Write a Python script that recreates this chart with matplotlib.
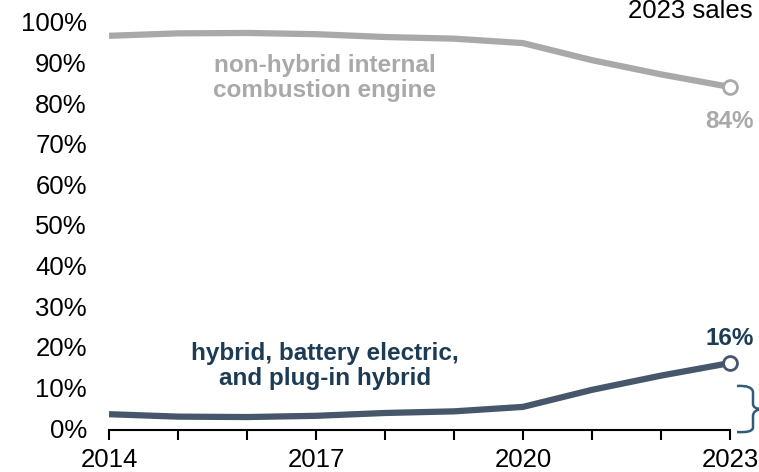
import numpy as np
import matplotlib.pyplot as plt
from matplotlib.path import Path
from matplotlib.patches import PathPatch

plt.rcParams['font.family'] = ['Liberation Sans', 'DejaVu Sans']

years = [2014, 2015, 2016, 2017, 2018, 2019, 2020, 2021, 2022, 2023]
ice_share = [96.6, 97.2, 97.3, 97.0, 96.3, 95.9, 94.8, 90.6, 87.1, 84.0]
ev_share = [3.4, 2.8, 2.7, 3.0, 3.7, 4.1, 5.2, 9.4, 12.9, 16.0]
yticks = list(range(0, 101, 10))
xlabel_years = [2014, 2017, 2020, 2023]

grey = '#a9a9a9'
slate = '#46566b'
navy = '#1c3c55'
fs = 17.5
tfs = 18.5

fig = plt.figure(figsize=(7.59, 4.72), dpi=100)
ax = fig.add_axes([109 / 759, (472 - 428) / 472, (730 - 109) / 759, (428 - 22) / 472])

ax.plot(years, ice_share, color=grey, lw=4.5, solid_capstyle='butt', zorder=2)
ax.plot(years, ev_share, color=slate, lw=4.5, solid_capstyle='butt', zorder=2)
ax.plot(years[-1], ice_share[-1], 'o', ms=10, mfc='white', mec=grey, mew=2, zorder=3, clip_on=False)
ax.plot(years[-1], ev_share[-1], 'o', ms=10, mfc='white', mec=slate, mew=2, zorder=3, clip_on=False)

ax.set_xlim(2014, 2023)
ax.set_ylim(0, 100)
ax.set_yticks(yticks)
ax.set_yticklabels(['%d%%' % v for v in yticks])
ax.tick_params(axis='y', length=0, pad=16, labelsize=tfs)
ax.set_xticks(years)
ax.set_xticklabels([str(y) if y in xlabel_years else '' for y in years])
ax.tick_params(axis='x', length=7, width=1.5, color='black', pad=6, direction='out', labelsize=tfs)
for s in ['top', 'right', 'left']:
    ax.spines[s].set_visible(False)
ax.spines['bottom'].set_linewidth(1.5)
ax.spines['bottom'].set_position(('data', -0.5))

ax.text(2017.13, 86.3, 'non-hybrid internal\ncombustion engine', color=grey, fontsize=fs,
        fontweight='bold', ha='center', va='center', linespacing=1.12)
ax.text(2017.13, 15.3, 'hybrid, battery electric,\nand plug-in hybrid', color=navy, fontsize=fs,
        fontweight='bold', ha='center', va='center', linespacing=1.12)
ax.text(years[-1], ice_share[-1] - 8.4, '%d%%' % ice_share[-1], color=grey, fontsize=fs,
        fontweight='bold', ha='center', va='center')
ax.text(years[-1], ev_share[-1] + 6, '%d%%' % ev_share[-1], color=navy, fontsize=fs,
        fontweight='bold', ha='center', va='center')

fig.text(628 / 759, 1 - 11 / 472, '2023 sales', fontsize=tfs, ha='left', va='center')

# brace on the right edge, in pixel-like figure coords
def fx(px):
    return px / 759

def fy(py):
    return 1 - py / 472

verts = [(fx(737), fy(386)), (fx(752), fy(385)), (fx(753), fy(392)), (fx(753), fy(404)),
         (fx(753), fy(409)), (fx(762), fy(409)),
         (fx(753), fy(410)), (fx(753), fy(416)), (fx(753), fy(428)),
         (fx(752), fy(433)), (fx(737), fy(432))]
codes = [Path.MOVETO, Path.CURVE3, Path.CURVE3, Path.LINETO, Path.CURVE3, Path.CURVE3,
         Path.CURVE3, Path.CURVE3, Path.LINETO, Path.CURVE3, Path.CURVE3]
fig.patches.append(PathPatch(Path(verts, codes), fill=False, ec='#2f5c78', lw=1.8,
                             transform=fig.transFigure, figure=fig))

fig.savefig('out.png', dpi=100)
